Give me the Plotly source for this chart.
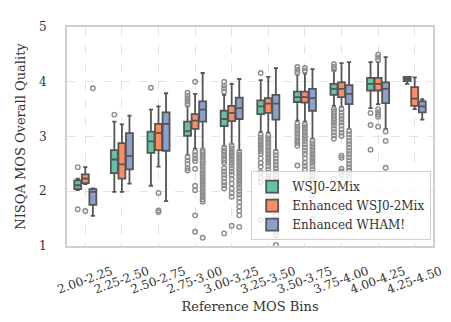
import plotly.graph_objects as go

bins = ["2.00-2.25", "2.25-2.50", "2.50-2.75", "2.75-3.00", "3.00-3.25",
        "3.25-3.50", "3.50-3.75", "3.75-4.00", "4.00-4.25", "4.25-4.50"]

series_names = ["WSJ0-2Mix", "Enhanced WSJ0-2Mix", "Enhanced WHAM!"]
series_colors = ["#66c2a5", "#fc8d62", "#8da0cb"]

# box stats per series: lower whisker, q1, median, q3, upper whisker
wsj_low = [2.02, 1.99, 2.10, 2.66, 2.83, 3.08, 3.29, 3.56, 3.52, 3.96]
wsj_q1 = [2.04, 2.33, 2.70, 3.01, 3.19, 3.41, 3.63, 3.76, 3.84, 4.01]
wsj_med = [2.11, 2.58, 2.91, 3.10, 3.32, 3.55, 3.72, 3.87, 3.96, 4.05]
wsj_q3 = [2.20, 2.75, 3.09, 3.27, 3.47, 3.66, 3.82, 3.96, 4.07, 4.09]
wsj_high = [2.23, 3.27, 3.49, 3.55, 3.76, 4.03, 4.13, 4.20, 4.36, 4.09]

enh_low = [2.13, 1.99, 2.45, 2.78, 2.87, 3.07, 3.27, 3.54, 3.59, 3.50]
enh_q1 = [2.15, 2.23, 2.75, 3.14, 3.28, 3.43, 3.62, 3.72, 3.84, 3.56]
enh_med = [2.23, 2.49, 3.06, 3.29, 3.43, 3.60, 3.72, 3.87, 3.96, 3.69]
enh_q3 = [2.31, 2.88, 3.23, 3.41, 3.56, 3.70, 3.82, 3.99, 4.07, 3.90]
enh_high = [2.44, 3.22, 3.55, 3.78, 3.96, 4.09, 4.15, 4.34, 4.36, 4.08]

wham_low = [1.55, 2.14, 1.82, 2.78, 2.75, 2.75, 2.96, 3.14, 3.14, 3.31]
wham_q1 = [1.75, 2.40, 2.74, 3.27, 3.32, 3.31, 3.47, 3.59, 3.61, 3.44]
wham_med = [1.99, 2.64, 3.23, 3.49, 3.52, 3.60, 3.70, 3.78, 3.87, 3.55]
wham_q3 = [2.04, 3.06, 3.44, 3.64, 3.71, 3.76, 3.87, 3.94, 3.99, 3.64]
wham_high = [2.05, 3.38, 3.79, 4.16, 4.05, 4.25, 4.23, 4.36, 4.45, 3.68]

# outliers per bin
wsj_out = [
    [2.44, 1.67],
    [3.40],
    [3.89],
    [3.59, 3.64, 3.69, 3.74, 3.80, 2.62, 2.56, 2.50, 2.42, 2.38],
    [3.82, 3.88, 3.93, 4.00, 2.79, 2.74, 2.70, 2.65, 2.60, 2.56, 2.52, 2.42,
     2.36, 2.30, 2.24, 2.17, 2.11, 2.05, 1.23],
    [4.16, 3.03, 2.98, 2.93, 2.88, 2.83, 2.78, 2.73, 2.68, 2.60, 2.52, 2.45,
     2.35, 2.25, 2.17, 1.47],
    [4.17, 4.22, 4.27, 3.23, 3.18, 3.13, 3.08, 3.03, 2.98, 2.93, 2.88, 2.83, 2.47],
    [4.23, 4.27, 4.32, 3.50, 3.46, 3.42, 3.38, 3.34, 3.30, 3.25, 3.20, 3.14,
     3.08, 3.02, 2.96, 2.23],
    [3.43, 3.21, 2.76],
    [],
]
enh_out = [
    [1.64],
    [],
    [1.97, 1.65, 1.62],
    [4.00, 2.72, 2.66, 2.60, 2.55, 2.41, 2.10, 2.02, 1.56, 1.26],
    [2.83, 2.78, 2.73, 2.68, 2.63, 2.58, 2.53, 2.48, 2.42, 2.36, 2.30, 2.22,
     2.14, 2.05, 1.97, 1.90, 1.37],
    [3.02, 2.97, 2.92, 2.87, 2.82, 2.77, 2.72, 2.67, 2.62, 2.57, 2.52, 2.46,
     2.40, 2.34, 2.28, 2.23, 2.00, 1.93],
    [4.20, 4.25, 3.22, 3.17, 3.12, 3.07, 3.02, 2.97, 2.92, 2.86, 2.80, 2.74,
     2.68, 2.60, 2.52, 2.46, 2.40],
    [3.50, 3.44, 3.38, 3.32, 3.26, 3.20, 3.13, 3.07, 3.01, 2.65, 2.61, 2.41,
     2.36, 2.30, 1.62],
    [4.50, 4.45, 4.40, 3.50, 3.45, 3.40, 3.36, 3.18],
    [],
]
wham_out = [
    [3.88],
    [],
    [],
    [2.74, 2.70, 2.66, 2.62, 2.58, 2.54, 2.50, 2.45, 2.40, 2.35, 2.30, 2.25,
     2.20, 2.15, 2.10, 2.05, 2.00, 1.95, 1.90, 1.85, 1.81, 1.15],
    [2.72, 2.67, 2.62, 2.57, 2.52, 2.47, 2.42, 2.37, 2.32, 2.27, 2.22, 2.17,
     2.12, 2.06, 2.00, 1.94, 1.88, 1.80, 1.72, 1.64, 1.56, 1.35],
    [2.72, 2.66, 2.60, 2.54, 2.48, 2.42, 2.36, 2.30, 2.24, 2.18, 2.12, 2.06,
     2.00, 1.92, 1.84, 1.76, 1.66, 1.56, 1.46, 1.36, 1.27, 1.19, 1.02],
    [2.92, 2.87, 2.82, 2.77, 2.72, 2.67, 2.62, 2.57, 2.52, 2.46, 2.40, 2.34,
     2.28, 2.22, 2.15, 2.08, 2.00, 1.92, 1.50],
    [3.10, 3.04, 2.98, 2.92, 2.86, 2.80, 2.74, 2.68, 2.62, 2.56, 2.50, 2.44,
     2.38, 2.32, 2.26, 2.14],
    [3.09, 2.92, 2.43],
    [],
]

stats = [
    (wsj_low, wsj_q1, wsj_med, wsj_q3, wsj_high, wsj_out),
    (enh_low, enh_q1, enh_med, enh_q3, enh_high, enh_out),
    (wham_low, wham_q1, wham_med, wham_q3, wham_high, wham_out),
]

line_col = "#555555"
fig = go.Figure()

for i, (low, q1, med, q3, high, outs) in enumerate(stats):
    grp = "g%d" % i
    fig.add_trace(go.Box(
        name=series_names[i],
        x=bins,
        lowerfence=low, q1=q1, median=med, q3=q3, upperfence=high,
        fillcolor=series_colors[i],
        line=dict(color=line_col, width=1.8),
        whiskerwidth=0.6,
        boxpoints=False,
        offsetgroup=grp,
        alignmentgroup="a",
    ))
    ox, oy = [], []
    for b, vals in zip(bins, outs):
        ox += [b] * len(vals)
        oy += vals
    fig.add_trace(go.Scatter(
        x=ox, y=oy, mode="markers",
        marker=dict(symbol="circle-open", size=4.5, color="#8c8c8c",
                    line=dict(width=1.4, color="#8c8c8c")),
        offsetgroup=grp, alignmentgroup="a",
        showlegend=False, hoverinfo="y",
    ))

fig.update_layout(
    width=451, height=322,
    margin=dict(l=59, r=26, t=17, b=84),
    template="plotly_white",
    font=dict(family="DejaVu Serif", size=12, color="#333333"),
    boxmode="group", boxgap=0.38, boxgroupgap=0.08,
    scattermode="group", scattergap=0.38,
    plot_bgcolor="white", paper_bgcolor="white",
    legend=dict(
        x=0.995, y=0.027, xanchor="right", yanchor="bottom",
        bgcolor="rgba(255,255,255,0.8)", bordercolor="#d0d0d0", borderwidth=1,
        font=dict(size=12, color="#333333"),
        tracegroupgap=0, itemwidth=30,
    ),
)
fig.update_xaxes(
    title=dict(text="Reference MOS Bins", font=dict(size=13), standoff=6),
    tickangle=-20, ticklabelshift=26, ticklabelstandoff=12,
    showgrid=True, gridcolor="#e2e2e2", griddash="dash", gridwidth=1,
    showline=True, linecolor="#cfcfcf", linewidth=2, mirror=True,
    ticks="", tickfont=dict(size=12, color="#333333"),
)
fig.update_yaxes(
    title=dict(text="NISQA MOS Overall Quality", font=dict(size=13), standoff=10),
    range=[1, 5], dtick=1, ticklabelstandoff=16,
    showgrid=True, gridcolor="#e2e2e2", griddash="dash", gridwidth=1,
    zeroline=False,
    showline=True, linecolor="#cfcfcf", linewidth=2, mirror=True,
    ticks="", tickfont=dict(size=12, color="#333333"),
)

fig.write_html("out.html")
